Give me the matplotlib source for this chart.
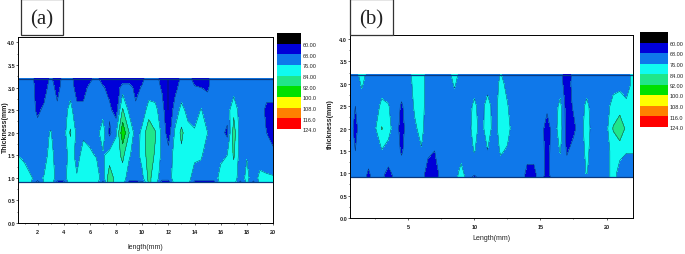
import matplotlib
matplotlib.use("Agg")
import matplotlib.pyplot as plt
import numpy as np

plt.rcParams['font.family'] = ['Liberation Sans', 'DejaVu Sans']

# contour levels and legend
levels = [52, 60, 68, 76, 84, 92, 100, 108, 116, 124]
level_colors = ['#000000', '#0000d8', '#0f78ea', '#10fbf0', '#20e68a', '#00e000', '#ffff00', '#ff8000', '#ff0000']
level_labels = ['60.00', '68.00', '76.00', '84.00', '92.00', '100.0', '108.0', '116.0', '124.0']

# panel a
x_a = np.arange(0.5, 20.5, 0.5)
y_a = [0.9, 1.0, 1.5, 2.0, 2.5, 3.0, 3.2]
a_09 = [82, 78, 76.5, 64, 76.5, 82, 66, 66, 82, 76.5, 80, 80, 80, 66, 90, 80, 80, 66, 66, 66, 86, 80, 64, 64, 80, 80, 79, 66, 66, 66, 66, 79, 80, 80, 66, 78, 66, 78, 77, 76.5]
a_10 = [82, 78, 76.5, 74, 76.5, 82, 72, 72, 82, 76.5, 80, 80, 80, 72, 90, 80, 80, 72, 72, 74, 86, 80, 72, 72, 80, 80, 79, 72, 72, 72, 72, 79, 80, 80, 72, 78, 72, 78, 77, 76.5]
a_15 = [76, 75, 72, 72, 73, 79, 72, 72, 79, 74, 78, 77, 75.5, 75, 79, 80, 86, 77, 72, 79, 88, 83, 74, 71, 79, 82, 80, 78, 77, 72, 72, 74, 76, 85, 72, 75.5, 72, 72, 72, 72]
a_20 = [72, 72, 72, 72, 74, 76.5, 72, 72, 85, 74, 75, 74, 73, 80, 66, 75, 98, 84, 72, 78, 91, 84.5, 74, 64, 77, 86, 78, 77, 82, 76, 72, 71, 66, 88, 72, 72, 72, 72, 68, 62]
a_25 = [72, 72, 72, 66, 70, 72, 70, 72, 79, 70, 70, 72, 72, 73, 70, 64, 85, 74, 70, 72, 79, 78, 72, 60, 72, 78, 74, 72, 76.5, 72, 72, 72, 72, 82, 72, 72, 72, 72, 66, 66]
a_30 = [72, 72, 72, 64, 64, 72, 65, 72, 72, 65, 65, 70, 71, 69, 65, 62, 72, 72, 65, 69, 72, 72, 67, 60, 65, 72, 72, 69, 68, 67, 72, 72, 72, 72, 72, 72, 72, 72, 72, 72]
a_32 = [72, 72, 72, 62, 62, 70, 62, 72, 72, 62, 62, 66, 70, 64, 62, 60, 62, 62, 62, 66, 72, 72, 64, 60, 62, 70, 72, 64, 64, 66, 72, 72, 72, 72, 72, 72, 72, 72, 72, 72]
z_a = [a_09, a_10, a_15, a_20, a_25, a_30, a_32]

# panel b
x_b = np.arange(0.5, 22.5, 0.5)
y_b = [0.92, 1.0, 1.5, 2.0, 2.5, 3.0, 3.2]
b_09 = [72, 72, 72, 66, 72, 70, 64, 70, 72, 72, 72, 70, 66, 65, 70, 72, 72, 80, 72, 66, 72, 72, 72, 72, 72, 72, 72, 66, 66, 72, 64, 72, 72, 72, 72, 72, 68, 72, 72, 72, 80, 72, 72, 72]
b_10 = [72, 72, 72, 67, 72, 70, 66, 70, 72, 72, 72, 70, 66, 65, 70, 72, 72, 79, 72, 70, 72, 72, 72, 72, 72, 72, 72, 66, 66, 72, 66, 72, 72, 72, 72, 72, 76.5, 72, 72, 72, 80, 72, 72, 72]
b_15 = [72, 68, 72, 72, 72, 75.5, 73, 72, 67, 72, 72, 75.5, 69, 68, 72, 72, 72, 72, 72, 76.5, 72, 75.8, 72, 77, 75, 72, 72, 71, 71, 72, 65, 72, 76.5, 67, 71, 72, 78, 72, 72, 72, 80, 79, 76.5, 76.5]
b_20 = [72, 66, 72, 72, 75, 84.5, 79, 72, 65, 72, 75, 78, 72, 72, 72, 72, 72, 72, 72, 80, 72, 81, 72, 80, 79, 72, 72, 72, 72, 72, 64, 72, 80, 64, 66, 72, 80, 72, 72, 74, 84.5, 90, 82, 78]
b_25 = [72, 68, 72, 72, 72, 78, 76.5, 72, 67, 72, 77, 79, 72, 72, 72, 72, 72, 72, 72, 78, 72, 80, 72, 80, 76.5, 72, 72, 72, 72, 72, 70, 72, 78, 64, 69, 72, 78, 72, 72, 72, 80, 80, 78, 77]
b_30 = [72, 72, 77, 72, 72, 72, 72, 72, 72, 72, 79, 80, 72, 72, 72, 72, 77, 72, 72, 72, 72, 72, 72, 78, 74, 72, 72, 72, 72, 72, 72, 72, 72, 62, 72, 72, 72, 72, 72, 72, 72, 74, 72, 78]
b_32 = [72, 72, 80, 72, 72, 72, 72, 72, 72, 72, 80, 80, 72, 72, 72, 72, 80, 72, 72, 72, 72, 72, 72, 76.5, 72, 72, 72, 72, 72, 72, 72, 72, 72, 60, 72, 72, 72, 72, 72, 72, 72, 72, 72, 78]
z_b = [b_09, b_10, b_15, b_20, b_25, b_30, b_32]

W, H = 685, 255
fig = plt.figure(figsize=(W / 100, H / 100), dpi=100)


def px_axes(left, right, top, bottom):
    return fig.add_axes([left / W, 1 - bottom / H, (right - left) / W, (bottom - top) / H])


def contour_panel(ax, x, y, z, xlim, ylim_top, xticks, xminor, xlabel, ylabel, xlab_y, ylab_x):
    ax.contourf(x, y, z, levels=levels, colors=level_colors)
    ax.contour(x, y, z, levels=levels, colors='#06205a', linewidths=0.3)
    ax.hlines([y[0], y[-1]], xlim[0], xlim[1], color='#0a3a80', lw=0.9)
    ax.set_xlim(xlim)
    ax.set_ylim(0, ylim_top)
    ax.set_xticks(xticks)
    ax.set_xticks(xminor, minor=True)
    ax.set_yticks(np.arange(0, 4.5, 0.5))
    ax.set_yticks(np.arange(0.25, 4.25, 0.5), minor=True)
    ax.set_yticklabels(['0.0', '0.5', '1.0', '1.5', '2.0', '2.5', '3.0', '3.5', '4.0'])
    ax.tick_params(labelsize=4, length=1.5, width=0.5, colors='#222222')
    ax.tick_params(axis='x', pad=3)
    ax.tick_params(axis='y', pad=0.5)
    ax.tick_params(which='minor', length=1, width=0.4)
    for t in ax.get_xticklabels() + ax.get_yticklabels():
        t.set_fontweight('bold')
    ax.set_xlabel(xlabel, fontsize=5, color='#222222')
    ax.set_ylabel(ylabel, fontsize=5, fontweight='bold', color='#222222')
    ax.xaxis.set_label_coords(0.5, xlab_y)
    ax.yaxis.set_label_coords(ylab_x, 0.52)
    for s in ax.spines.values():
        s.set_linewidth(0.7)


def legend_panel(left, right, top, step, label_x):
    ax = px_axes(left, right, top, top + step * 9)
    ax.barh(np.arange(9), [1] * 9, height=1, left=0, color=level_colors, edgecolor='none')
    ax.set_xlim(0, 1)
    ax.set_ylim(8.5, -0.5)
    ax.axis('off')
    for i, lab in enumerate(level_labels):
        fig.text(label_x / W, 1 - (top + step * (i + 1) + 1) / H, lab, fontsize=4, color='#222222', va='center', ha='left')


def title_box(left, right, bottom, txt):
    fig.patches.append(plt.Rectangle((left / W, 1 - bottom / H), (right - left) / W, bottom / H,
                                     transform=fig.transFigure, facecolor='white', edgecolor='#333333', lw=0.9))
    fig.text((left + right) / 2 / W, 1 - (bottom / 2 + 2) / H, txt, family='Liberation Serif', fontsize=15,
             ha='center', va='center', color='#222222')


ax_a = px_axes(18, 273, 38, 224)
contour_panel(ax_a, x_a, y_a, z_a, (0.5, 20), 4.12, np.arange(2, 21, 2), np.arange(1, 20, 2),
              'length(mm)', 'Thickness(mm)', -0.11, -0.035)
ax_b = px_axes(350, 633, 36, 219)
contour_panel(ax_b, x_b, y_b, z_b, (0.6, 22), 4.09, [5, 10, 15, 20], [2.5, 7.5, 12.5, 17.5],
              'Length(mm)', 'thickness(mm)', -0.09, -0.055)

legend_panel(277, 301, 34, 10.65, 303)
legend_panel(640, 668, 33, 10.5, 670)
title_box(21, 63, 36, '(a)')
title_box(350, 393, 36, '(b)')

fig.savefig('out.png', dpi=100)
